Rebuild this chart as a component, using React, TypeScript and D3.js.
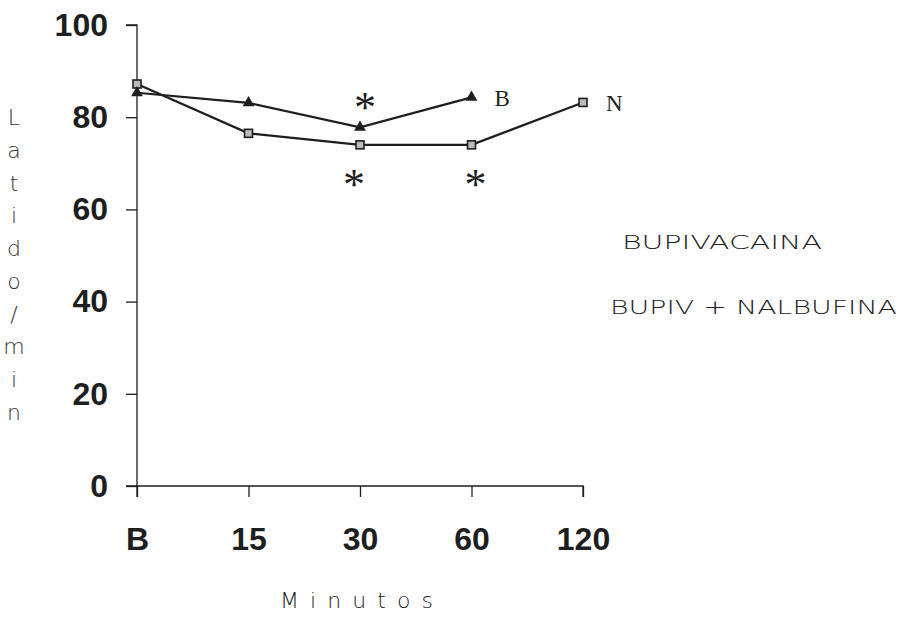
import { useEffect, useRef } from 'react';
import * as d3 from 'd3';

const categories = ['B', '15', '30', '60', '120'];
const bupiValues = [85.3, 83.1, 77.8, 84.3];
const nalbValues = [87.2, 76.5, 74, 74, 83.2];
const yTicks = [0, 20, 40, 60, 80, 100];
const seriesNames = ['BUPIVACAINA', 'BUPIV + NALBUFINA'];
const endLabels = ['B', 'N'];
// significance marks: [category, series index, above?]
const stars: Array<[string, number, boolean]> = [
  ['30', 0, true],
  ['30', 1, false],
  ['60', 1, false],
];
const yLabel = 'Latido/min';
const xLabel = 'Minutos';

const W = 901;
const H = 637;

export default function App() {
  const svgRef = useRef<SVGSVGElement>(null);

  useEffect(() => {
    if (!svgRef.current) return;
    const svg = d3.select(svgRef.current);
    svg.selectAll('*').remove();

    const x = d3.scalePoint<string>().domain(categories).range([137, 583]);
    const y = d3.scaleLinear().domain([0, 100]).range([486, 25]);
    const ink = '#1e1e1e';
    const tickFont = 'Liberation Sans, Arial, sans-serif';

    // y axis
    const gy = svg.append('g').attr('transform', 'translate(137,0)');
    gy.call(
      d3.axisLeft(y).tickValues(yTicks).tickSize(11).tickPadding(18).tickFormat(d3.format('d')) as never
    );
    gy.select('.domain').attr('d', `M-11,${y(100)}H0V${y(0) + 11}`);
    gy.selectAll('text')
      .style('font-family', tickFont)
      .style('font-weight', 'bold')
      .style('font-size', '32px')
      .attr('fill', ink);

    // x axis
    const gx = svg.append('g').attr('transform', `translate(0,${y(0)})`);
    gx.call(d3.axisBottom(x).tickSize(11).tickPadding(30) as never);
    gx.select('.domain').attr('d', `M126,0H583V11`);
    gx.selectAll('text')
      .style('font-family', tickFont)
      .style('font-weight', 'bold')
      .style('font-size', '32px')
      .attr('fill', ink);
    svg.selectAll('.domain, .tick line').attr('stroke', ink).attr('stroke-width', 1.3);

    const line = d3
      .line<number>()
      .x((_, i) => x(categories[i]) ?? 0)
      .y((d) => y(d));

    svg.append('path')
      .datum(nalbValues)
      .attr('d', line)
      .attr('fill', 'none')
      .attr('stroke', ink)
      .attr('stroke-width', 2.2);
    svg.append('path')
      .datum(bupiValues)
      .attr('d', line)
      .attr('fill', 'none')
      .attr('stroke', ink)
      .attr('stroke-width', 2.2);

    // square markers
    svg.selectAll('.sq')
      .data(nalbValues)
      .join('rect')
      .attr('x', (_, i) => (x(categories[i]) ?? 0) - 4)
      .attr('y', (d) => y(d) - 4)
      .attr('width', 8)
      .attr('height', 8)
      .attr('fill', '#bbb')
      .attr('stroke', ink)
      .attr('stroke-width', 1.6);

    // triangle markers
    const tri = d3.symbol().type(d3.symbolTriangle).size(60);
    svg.selectAll('.tri')
      .data(bupiValues)
      .join('path')
      .attr('d', tri)
      .attr('transform', (d, i) => `translate(${x(categories[i])},${y(d)})`)
      .attr('fill', ink);

    // end labels
    const ends = [bupiValues, nalbValues];
    ends.forEach((vals, k) => {
      const last = vals.length - 1;
      svg.append('text')
        .attr('x', (x(categories[last]) ?? 0) + 23)
        .attr('y', y(vals[last]) + 9)
        .attr('font-family', 'Liberation Serif, Times New Roman, serif')
        .attr('font-size', 23)
        .attr('fill', ink)
        .text(endLabels[k]);
    });

    // asterisks
    stars.forEach(([cat, s, above]) => {
      const v = (s === 0 ? bupiValues : nalbValues)[categories.indexOf(cat)];
      const cx = (x(cat) ?? 0) + (s === 0 ? 5 : -6) + (cat === '60' ? 10 : 0);
      const cy = above ? y(v) - 5 : y(v) + 54;
      svg.append('text')
        .attr('x', cx)
        .attr('y', cy)
        .attr('text-anchor', 'middle')
        .attr('font-family', 'Liberation Serif, Times New Roman, serif')
        .attr('font-size', 44)
        .attr('fill', ink)
        .text('*');
    });

    // legend text
    const legendPos: Array<[number, number, number]> = [
      [622, 249, 200],
      [610, 314, 287],
    ];
    seriesNames.forEach((n, i) => {
      svg.append('text')
        .attr('x', legendPos[i][0])
        .attr('y', legendPos[i][1])
        .attr('font-family', 'DejaVu Sans, sans-serif')
        .attr('font-weight', 200)
        .attr('font-size', 20)
        .attr('textLength', legendPos[i][2])
        .attr('lengthAdjust', 'spacingAndGlyphs')
        .attr('fill', '#222')
        .text(n);
    });

    // y label, stacked letters
    const letters = yLabel.split('');
    const ly = d3.scalePoint<number>().domain(letters.map((_, i) => i)).range([125, 420]);
    svg.selectAll('.yl')
      .data(letters)
      .join('text')
      .attr('x', 14)
      .attr('y', (_, i) => ly(i) ?? 0)
      .attr('text-anchor', 'middle')
      .attr('font-family', 'DejaVu Sans, sans-serif')
      .attr('font-weight', 200)
      .attr('font-size', 22)
      .attr('fill', '#333')
      .text((d) => d);

    svg.append('text')
      .attr('x', 280)
      .attr('y', 608)
      .attr('font-family', 'DejaVu Sans, sans-serif')
      .attr('font-weight', 200)
      .attr('font-size', 22)
      .attr('textLength', 153)
      .attr('lengthAdjust', 'spacing')
      .attr('fill', '#222')
      .text(xLabel);
  }, []);

  return (
    <svg
      ref={svgRef}
      width={W}
      height={H}
      style={{ position: 'absolute', left: 0, top: 0, background: '#fff' }}
    />
  );
}
